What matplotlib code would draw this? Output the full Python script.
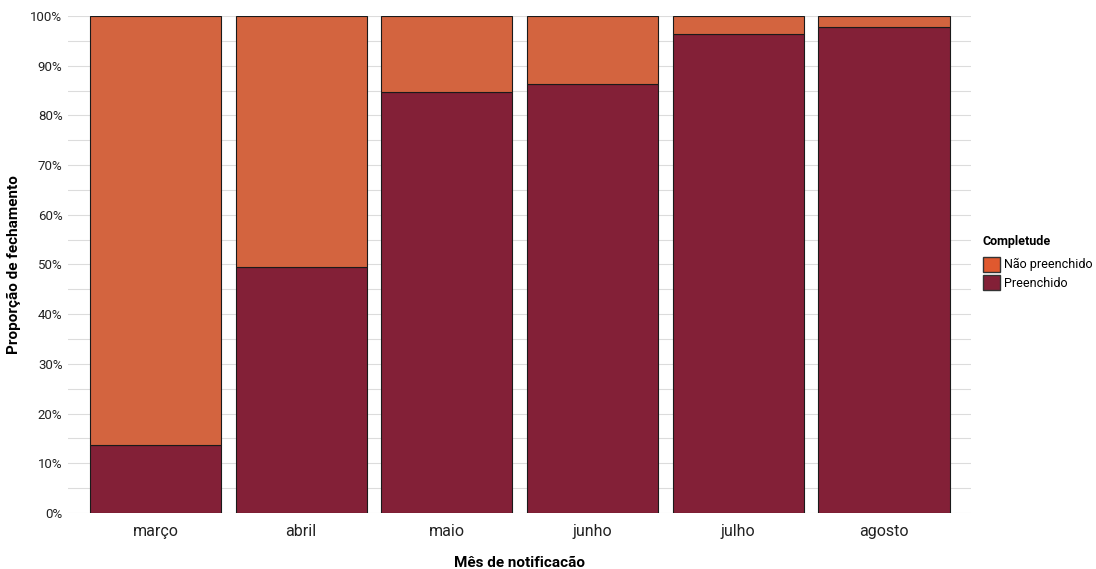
import numpy as np
import matplotlib
matplotlib.use("Agg")
import matplotlib.pyplot as plt
from matplotlib.patches import Patch

plt.rcParams["font.family"] = ["Roboto", "DejaVu Sans"]

meses = ["março", "abril", "maio", "junho", "julho", "agosto"]
preenchido = [13.7, 49.5, 84.7, 86.3, 96.4, 97.8]
nao_preenchido = [100 - v for v in preenchido]

COR_PRE = "#832037"
COR_NAO = "#D3643F"

fig = plt.figure(figsize=(10.96, 5.69), dpi=100)
ax = fig.add_axes([0.0621, 0.0984, 0.8242, 0.8735])

x = np.arange(len(meses))
ax.bar(x, preenchido, width=0.9, color=COR_PRE, edgecolor="#1a1a1a", lw=0.8, zorder=3)
ax.bar(x, nao_preenchido, bottom=preenchido, width=0.9, color=COR_NAO,
       edgecolor="#1a1a1a", lw=0.8, zorder=3)

ax.set_xlim(-0.6, len(meses) - 0.4)
ax.set_ylim(0, 100)
ax.set_yticks(np.arange(0, 101, 10))
ax.set_yticks(np.arange(5, 100, 10), minor=True)
ax.set_yticklabels([f"{v}%" for v in range(0, 101, 10)], fontsize=9.5, color="#222222")
ax.set_xticks(x)
ax.set_xticklabels(meses, fontsize=11.5, color="#222222")
ax.tick_params(axis="both", which="both", length=0, pad=4)
ax.tick_params(axis="x", pad=8)
ax.grid(axis="y", which="both", color="#dcdcdc", lw=0.8, zorder=0)
for s in ax.spines.values():
    s.set_visible(False)

ax.set_xlabel("Mês de notificacão", fontsize=11, fontweight="bold", labelpad=12)
ax.set_ylabel("Proporção de fechamento", fontsize=11, fontweight="bold")
ax.yaxis.set_label_coords(-0.052, 0.5)

handles = [Patch(facecolor="#E0592F", edgecolor="#333333", label="Não preenchido"),
           Patch(facecolor=COR_PRE, edgecolor="#333333", label="Preenchido")]
leg = fig.legend(handles=handles, title="Completude", loc="upper left",
                 bbox_to_anchor=(0.892, 0.595), frameon=False, fontsize=9,
                 title_fontproperties={"weight": "bold", "size": 9},
                 handlelength=1.4, handleheight=1.45, handletextpad=0.3,
                 labelspacing=0.3, borderaxespad=0)
leg._legend_box.align = "left"
leg._legend_box.sep = 6

fig.savefig("out.png", dpi=100)
